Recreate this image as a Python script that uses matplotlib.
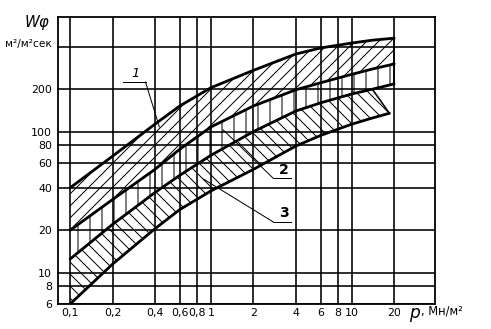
import matplotlib
matplotlib.use("Agg")
import matplotlib.pyplot as plt

plt.rcParams['font.family'] = ['Liberation Sans Narrow', 'DejaVu Sans']
plt.rcParams['hatch.linewidth'] = 1.0
plt.rcParams['hatch.color'] = 'black'

# ---- data ----
pressure = [0.1, 0.2, 0.4, 0.6, 1, 2, 4, 6, 10, 14, 20]
curve_top = [40, 67, 113, 152, 205, 272, 355, 392, 425, 445, 460]      # upper bound, band 1
curve_mid1 = [20, 33, 54, 75, 108, 152, 198, 222, 255, 278, 302]       # lower band 1 / upper band 2
curve_mid2 = [12.5, 22, 37, 49, 68, 100, 140, 160, 185, 200, 218]      # lower band 2 / upper band 3
pressure_low = [0.1, 0.2, 0.4, 0.6, 1, 2, 4, 6, 10, 14, 18.5]
curve_low = [6, 11.5, 20.5, 28, 38, 54, 79, 94, 113, 125, 135]         # lower band 3

x_ticks = [0.1, 0.2, 0.4, 0.6, 0.8, 1, 2, 4, 6, 8, 10, 20]
x_labels = ['0,1', '0,2', '0,4', '0,6', '0,8', '1', '2', '4', '6', '8', '10', '20']
y_ticks = [6, 8, 10, 20, 40, 60, 80, 100, 200, 400]
y_labels = ['6', '8', '10', '20', '40', '60', '80', '100', '200', '']

W, H = 491, 329
fig = plt.figure(figsize=(W / 72, H / 72), dpi=72)
ax = fig.add_axes([58 / W, 25 / H, 377 / W, 287 / H])
ax.set_xscale('log')
ax.set_yscale('log')
ax.set_xlim(0.082, 39)
ax.set_ylim(6, 650)

ax.set_xticks(x_ticks)
ax.set_xticklabels(x_labels, fontsize=11)
ax.set_yticks(y_ticks)
ax.set_yticklabels(y_labels, fontsize=11)
ax.minorticks_off()
ax.tick_params(length=0, pad=4)
ax.tick_params(axis='y', pad=6)
ax.grid(True, which='major', color='black', lw=1.6)
ax.set_axisbelow(True)
for s in ax.spines.values():
    s.set_linewidth(1.8)

# bands
ax.fill_between(pressure, curve_mid1, curve_top, facecolor='none',
                edgecolor='black', hatch='//', linewidth=0)
ax.fill_between(pressure, curve_mid2, curve_mid1, facecolor='none',
                edgecolor='black', hatch='|', linewidth=0)
n_close = pressure.index(14)
band3_x = pressure[:n_close + 1] + pressure_low[::-1]
band3_y = curve_mid2[:n_close + 1] + curve_low[::-1]
ax.fill(band3_x, band3_y, facecolor='none', edgecolor='black',
        hatch='\\\\', linewidth=0)

# boundary curves
for xs, ys in [(pressure, curve_top), (pressure, curve_mid1),
               (pressure, curve_mid2), (pressure_low, curve_low)]:
    ax.plot(xs, ys, color='black', lw=2.8, solid_capstyle='round')
ax.plot([pressure[n_close], pressure_low[-1]],
        [curve_mid2[n_close], curve_low[-1]], color='black', lw=1.6)
ax.plot([pressure[-1], pressure[-1]], [curve_mid2[-1], curve_top[-1]],
        color='black', lw=1.6)

# labels with leaders
lk = dict(color='black', lw=1.0)
ax.plot([0.239, 0.343], [225, 225], **lk)
ax.plot([0.343, 0.43], [225, 108], **lk)
ax.text(0.29, 232, '1', fontsize=13, ha='center', va='bottom', style='italic')

ax.plot([2.77, 3.73], [46.7, 46.7], **lk)
ax.plot([2.77, 1.22], [46.7, 103], **lk)
ax.text(3.3, 48, '2', fontsize=14, ha='center', va='bottom', fontweight='bold')

ax.plot([2.77, 3.73], [22.9, 22.9], **lk)
ax.plot([2.77, 0.89], [22.9, 46], **lk)
ax.text(3.3, 23.5, '3', fontsize=14, ha='center', va='bottom', fontweight='bold')

# axis titles
fig.text(37 / W, 1 - 23 / H, 'Wφ', fontsize=15, style='italic',
         ha='center', va='center')
fig.text(52 / W, 1 - 44 / H, 'м²/м²сек', fontsize=10.5, ha='right', va='center')
fig.text(409 / W, 1 - 313 / H, 'p', fontsize=17, style='italic',
         ha='left', va='center')
fig.text(421 / W, 1 - 311 / H, ', Мн/м²', fontsize=11.5, ha='left', va='center')

fig.savefig('out.png', dpi=72)
